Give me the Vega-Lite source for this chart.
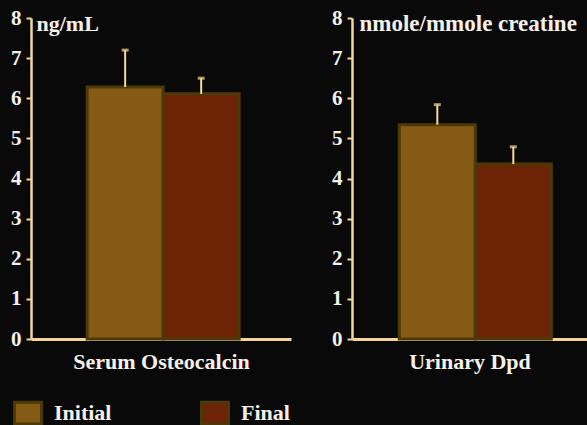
{
  "$schema": "https://vega.github.io/schema/vega-lite/v6.json",
  "background": "#0a0909",
  "padding": {"left": 10, "top": 7, "right": 0, "bottom": 0},
  "datasets": {
    "bars": [
      {"test": "Serum Osteocalcin", "group": "Initial", "value": 6.28, "upper": 7.2},
      {"test": "Serum Osteocalcin", "group": "Final", "value": 6.11, "upper": 6.5},
      {"test": "Urinary Dpd", "group": "Initial", "value": 5.34, "upper": 5.84},
      {"test": "Urinary Dpd", "group": "Final", "value": 4.36, "upper": 4.79}
    ]
  },
  "config": {
    "view": {"stroke": null},
    "font": "Liberation Serif",
    "axis": {
      "grid": false,
      "domainColor": "#f3d59c",
      "tickColor": "#f3d59c",
      "labelColor": "#f4f1ea",
      "titleColor": "#f4f1ea",
      "labelFont": "Liberation Serif",
      "titleFont": "Liberation Serif",
      "labelFontWeight": "bold",
      "titleFontWeight": "bold"
    }
  },
  "spacing": 40,
  "hconcat": [
    {
      "width": 260,
      "height": 321,
      "data": {"name": "bars"},
      "transform": [{"filter": "datum.test === 'Serum Osteocalcin'"}],
      "encoding": {
        "x": {
          "field": "group", "type": "nominal", "sort": ["Initial", "Final"],
          "scale": {"paddingInner": 0, "paddingOuter": 0.71, "align": 0.52},
          "axis": {"labels": false, "ticks": false, "domainWidth": 3, "title": "Serum Osteocalcin", "titleFontSize": 22, "titlePadding": 12}
        }
      },
      "layer": [
        {
          "mark": {"type": "bar", "stroke": "#4b3a08", "strokeWidth": 3},
          "encoding": {
            "y": {
              "field": "value", "type": "quantitative",
              "scale": {"domain": [0, 8], "nice": false},
              "axis": {"values": [0, 1, 2, 3, 4, 5, 6, 7, 8], "labelFontSize": 21, "tickSize": 5, "tickWidth": 2, "domainWidth": 2.5, "labelPadding": 5,
                "title": "ng/mL", "titleAngle": 0, "titleAlign": "left", "titleBaseline": "alphabetic", "titleX": 5, "titleY": 12, "titleFontSize": 22}
            },
            "color": {
              "field": "group", "type": "nominal",
              "scale": {"domain": ["Initial", "Final"], "range": ["#845a15", "#6d2406"]},
              "legend": {
                "orient": "none", "legendX": -18, "legendY": 380, "direction": "horizontal", "title": null,
                "symbolType": "M-1,-0.8H1V0.8H-1Z", "symbolSize": 729, "symbolStrokeColor": "#4b3a08", "symbolStrokeWidth": 3, "symbolOpacity": 1,
                "labelFont": "Liberation Serif", "labelFontWeight": "bold", "labelFontSize": 22, "labelColor": "#f4f1ea", "labelOffset": 11,
                "columnPadding": 83, "padding": 0
              }
            }
          }
        },
        {
          "mark": {"type": "rule", "color": "#f6d89c", "strokeWidth": 2},
          "encoding": {"y": {"field": "value", "type": "quantitative"}, "y2": {"field": "upper"}}
        },
        {
          "mark": {"type": "tick", "color": "#f6d89c", "size": 7, "thickness": 3},
          "encoding": {"y": {"field": "upper", "type": "quantitative"}}
        }
      ]
    },
    {
      "width": 235,
      "height": 321,
      "data": {"name": "bars"},
      "transform": [{"filter": "datum.test === 'Urinary Dpd'"}],
      "encoding": {
        "x": {
          "field": "group", "type": "nominal", "sort": ["Initial", "Final"],
          "scale": {"paddingInner": 0, "paddingOuter": 0.546, "align": 0.57},
          "axis": {"labels": false, "ticks": false, "domainWidth": 3, "title": "Urinary Dpd", "titleFontSize": 22, "titlePadding": 12}
        }
      },
      "layer": [
        {
          "mark": {"type": "bar", "stroke": "#4b3a08", "strokeWidth": 3},
          "encoding": {
            "y": {
              "field": "value", "type": "quantitative",
              "scale": {"domain": [0, 8], "nice": false},
              "axis": {"values": [0, 1, 2, 3, 4, 5, 6, 7, 8], "labelFontSize": 21, "tickSize": 5, "tickWidth": 2, "domainWidth": 2.5, "labelPadding": 5,
                "title": "nmole/mmole creatine", "titleAngle": 0, "titleAlign": "left", "titleBaseline": "alphabetic", "titleX": 7, "titleY": 12, "titleFontSize": 23}
            },
            "color": {"field": "group", "type": "nominal"}
          }
        },
        {
          "mark": {"type": "rule", "color": "#f6d89c", "strokeWidth": 2},
          "encoding": {"y": {"field": "value", "type": "quantitative"}, "y2": {"field": "upper"}}
        },
        {
          "mark": {"type": "tick", "color": "#f6d89c", "size": 7, "thickness": 3},
          "encoding": {"y": {"field": "upper", "type": "quantitative"}}
        }
      ]
    }
  ]
}
